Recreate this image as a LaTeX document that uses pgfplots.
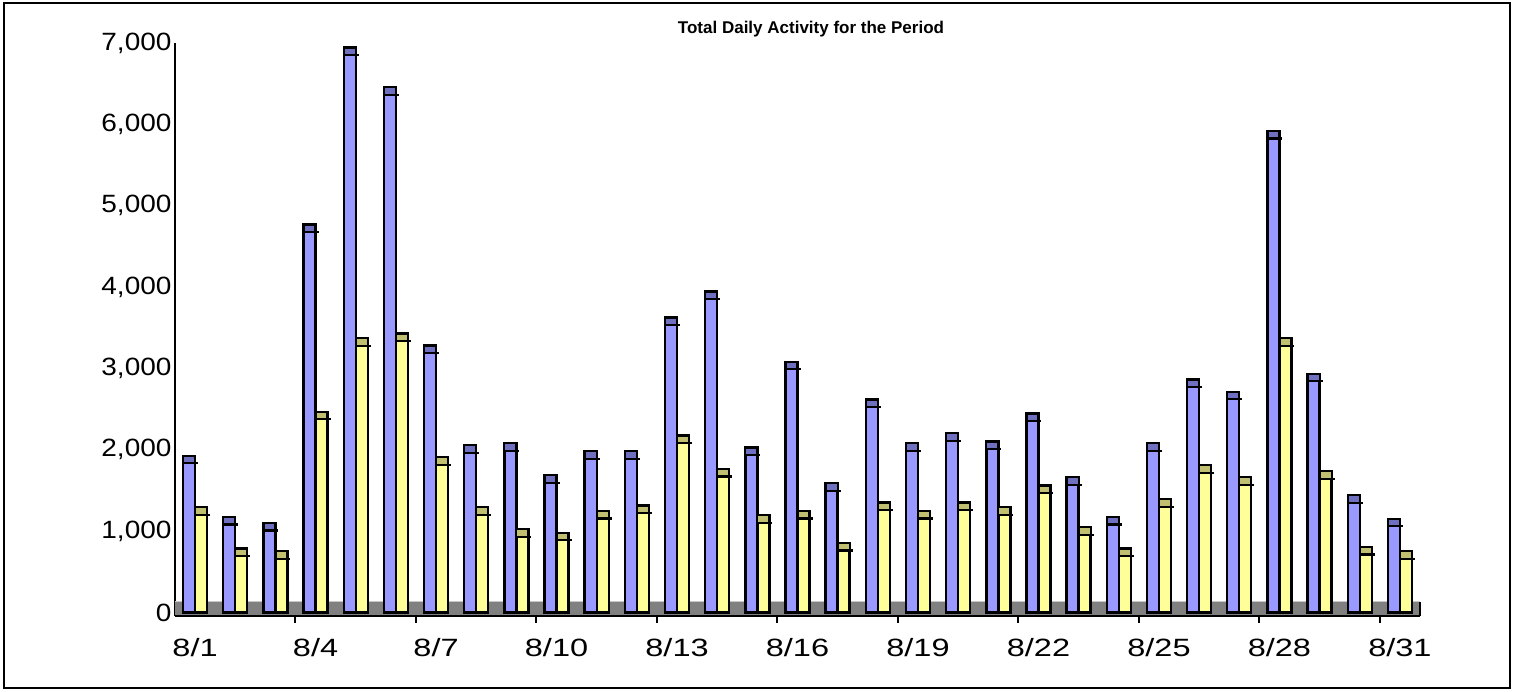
\documentclass[border=0pt]{standalone}
\usepackage{fontspec}
\setmainfont{Liberation Sans}
\usepackage{pgfplots}
\usepackage{pgfplotstable}
\pgfplotsset{compat=1.18}

\definecolor{bbody}{HTML}{9999FF}
\definecolor{bcapc}{HTML}{7070C0}
\definecolor{ybody}{HTML}{FFFF99}
\definecolor{ycapc}{HTML}{C0C070}
\definecolor{floorgray}{HTML}{808080}
\definecolor{floorline}{HTML}{C8C8C8}

\pgfdeclareplotmark{barcap}{%
  \pgfpathrectangle{\pgfpoint{-6pt}{-7.5pt}}{\pgfpoint{12pt}{7.5pt}}%
  \pgfusepathqfillstroke
  \pgfpathmoveto{\pgfpoint{-6pt}{-7.5pt}}%
  \pgfpathlineto{\pgfpoint{9pt}{-7.5pt}}%
  \pgfusepathqstroke
}

\pgfplotstableread{
x blue yellow
1 1927 1294
2 1174 786
3 1100 753
4 4769 2467
5 6943 3372
6 6455 3429
7 3280 1908
8 2056 1294
9 2079 1025
10 1686 980
11 1982 1248
12 1982 1316
13 3626 2176
14 3946 1765
15 2029 1197
16 3081 1248
17 1589 855
18 2619 1350
19 2079 1248
20 2204 1350
21 2102 1294
22 2444 1562
23 1663 1049
24 1174 786
25 2079 1391
26 2865 1811
27 2712 1663
28 5918 3372
29 2934 1738
30 1442 804
31 1151 753
}\data

\newcommand\XL[1]{\scalebox{1.3}[1]{#1}}

\begin{document}
\begin{tikzpicture}[x=1pt,y=1pt]
\useasboundingbox (0,0) rectangle (1517,691);
\draw[line width=2pt] (4,3) rectangle (1510,688);
\begin{axis}[
  at={(175pt,75pt)}, anchor=south west,
  scale only axis, width=1245pt, height=573pt,
  xmin=0.5, xmax=31.5, ymin=-43, ymax=7000,
  axis lines=left,
  axis line style={-, line width=2pt},
  tick style={black, line width=2pt},
  xtick={1,4,...,31},
  xticklabels={\XL{8/1},\XL{8/4},\XL{8/7},\XL{8/10},\XL{8/13},\XL{8/16},\XL{8/19},\XL{8/22},\XL{8/25},\XL{8/28},\XL{8/31}},
  major tick length=0pt,
  minor xtick={3.5,6.5,...,30.5},
  minor tick length=7pt,
  tick align=outside,
  ytick={0,1000,...,7000},
  yticklabel={\scalebox{1.12}[1]{\pgfmathprintnumber{\tick}}},
  /pgf/number format/.cd, 1000 sep={,}, assume math mode=true,
  /pgfplots/.cd,
  tick label style={font=\fontsize{25}{30}\selectfont},
  xticklabel style={yshift=-19pt},
  clip=false,
]
\addplot[fill=floorgray, draw=none] coordinates {(0.5,-25) (31.5,-25) (31.5,129) (0.5,129)} -- cycle;
\addplot[draw=floorline, line width=1.5pt] coordinates {(0.5,135) (31.5,135)};
\addplot[draw=black, line width=2pt] coordinates {(31.5,-43) (31.5,135)};
\addplot[ybar, bar width=12pt, bar shift=0pt, xshift=-6pt, fill=bbody, draw=black, line width=2.4pt,
  mark=barcap, mark options={fill=bcapc, draw=black, line width=2.2pt}] table[x=x,y=blue]{\data};
\addplot[ybar, bar width=12pt, bar shift=0pt, xshift=6pt, fill=ybody, draw=black, line width=2.4pt,
  mark=barcap, mark options={fill=ycapc, draw=black, line width=2.2pt}] table[x=x,y=yellow]{\data};
\end{axis}
\node[anchor=base, font=\bfseries\fontsize{17}{20}\selectfont] at (811,657.6) {Total Daily Activity for the Period};
\end{tikzpicture}
\end{document}
